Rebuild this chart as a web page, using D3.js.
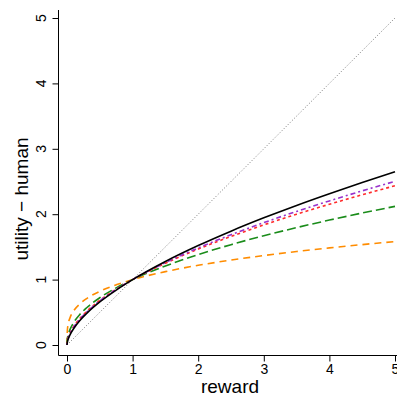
<!DOCTYPE html>
<html>
<head>
<meta charset="utf-8">
<script src="https://cdn.jsdelivr.net/npm/d3@7"></script>
<style>
  body { margin: 0; background: #fff; }
  text { font-family: "Liberation Sans", Arial, sans-serif; }
</style>
</head>
<body>
<div id="chart"></div>
<script>
// reward values (x) sampled along the curves
var rewards = [0, 0.005, 0.02, 0.05, 0.1, 0.2, 0.3, 0.5, 0.75, 1, 1.5, 2, 2.5, 3, 3.5, 4, 4.5, 5];

// utility values
var blackVals  = [0, 0.041, 0.094, 0.163, 0.248, 0.378, 0.483, 0.658, 0.840, 1, 1.278, 1.521, 1.741, 1.944, 2.134, 2.313, 2.484, 2.648];
var purpleVals = [0, 0.049, 0.108, 0.181, 0.269, 0.400, 0.503, 0.674, 0.849, 1, 1.260, 1.484, 1.686, 1.871, 2.043, 2.203, 2.357, 2.502];
var redVals    = [0, 0.053, 0.115, 0.191, 0.280, 0.411, 0.514, 0.682, 0.853, 1, 1.251, 1.467, 1.660, 1.836, 2.000, 2.152, 2.297, 2.435];
var greenVals  = [0, 0.084, 0.161, 0.247, 0.341, 0.472, 0.570, 0.723, 0.874, 1, 1.208, 1.382, 1.534, 1.671, 1.795, 1.910, 2.018, 2.120];
var orangeVals = [0, 0.221, 0.328, 0.426, 0.519, 0.632, 0.710, 0.821, 0.921, 1, 1.122, 1.219, 1.298, 1.368, 1.429, 1.485, 1.535, 1.582];

// identity line
var diagX = [0, 5];
var diagY = [0, 5];

var xTicks = [0, 1, 2, 3, 4, 5];
var yTicks = [0, 1, 2, 3, 4, 5];

var width = 397, height = 396;

// scales: 0 -> 67px, 5 -> 395px ; 0 -> 345px, 5 -> 18px
var x = d3.scaleLinear().domain([0, 5]).range([67, 395]);
var y = d3.scaleLinear().domain([0, 5]).range([345, 18]);

var svg = d3.select("#chart").append("svg")
    .attr("width", width)
    .attr("height", height);

// L shaped box
svg.append("path")
    .attr("d", "M58.5,10V355.5H" + width)
    .attr("fill", "none")
    .attr("stroke", "#000")
    .attr("stroke-width", 1);

// x axis
var xAxis = svg.append("g")
    .attr("transform", "translate(0,355.5)")
    .call(d3.axisBottom(x).tickValues(xTicks).tickSize(6).tickPadding(3).tickFormat(d3.format("d")));
xAxis.select(".domain").remove();
xAxis.selectAll("text").style("font-size", "14px").attr("fill", "#000");

// y axis
var yAxis = svg.append("g")
    .attr("transform", "translate(58.5,0)")
    .call(d3.axisLeft(y).tickValues(yTicks).tickSize(6).tickFormat(d3.format("d")));
yAxis.select(".domain").remove();
yAxis.selectAll("text")
    .style("font-size", "14px")
    .attr("fill", "#000")
    .attr("text-anchor", "middle")
    .attr("x", 0)
    .attr("dy", 0)
    .attr("transform", function (d) { return "translate(-13," + y(d) + ") rotate(-90)"; })
    .attr("y", 0);
yAxis.selectAll(".tick").attr("transform", "translate(0,0)");
yAxis.selectAll(".tick line").attr("transform", function (d) { return "translate(0," + (y(d) + 0.5) + ")"; });

// axis titles
svg.append("text")
    .attr("x", 230)
    .attr("y", 393)
    .attr("text-anchor", "middle")
    .style("font-size", "19px")
    .text("reward");

svg.append("text")
    .attr("transform", "translate(28,199) rotate(-90)")
    .attr("text-anchor", "middle")
    .style("font-size", "19px")
    .text("utility \u2212 human");

var plot = svg.append("g");

var line = d3.line()
    .x(function (d) { return x(d[0]); })
    .y(function (d) { return y(d[1]); })
    .curve(d3.curveMonotoneX);

// diagonal
plot.append("path")
    .datum(d3.zip(diagX, diagY))
    .attr("fill", "none")
    .attr("stroke", "#777")
    .attr("stroke-width", 1)
    .attr("stroke-dasharray", "1,2")
    .attr("d", line);

var series = [
    {vals: orangeVals, color: "#ff8c00", dash: "7,5"},
    {vals: greenVals,  color: "#1a8c1a", dash: "9,4"},
    {vals: redVals,    color: "#ff2a2a", dash: "3,3"},
    {vals: purpleVals, color: "#9932cc", dash: "2,3,5,3"},
    {vals: blackVals,  color: "#000000", dash: null}
];

series.forEach(function (s) {
    plot.append("path")
        .datum(d3.zip(rewards, s.vals))
        .attr("fill", "none")
        .attr("stroke", s.color)
        .attr("stroke-width", 1.6)
        .attr("stroke-dasharray", s.dash)
        .attr("d", line);
});
</script>
</body>
</html>
